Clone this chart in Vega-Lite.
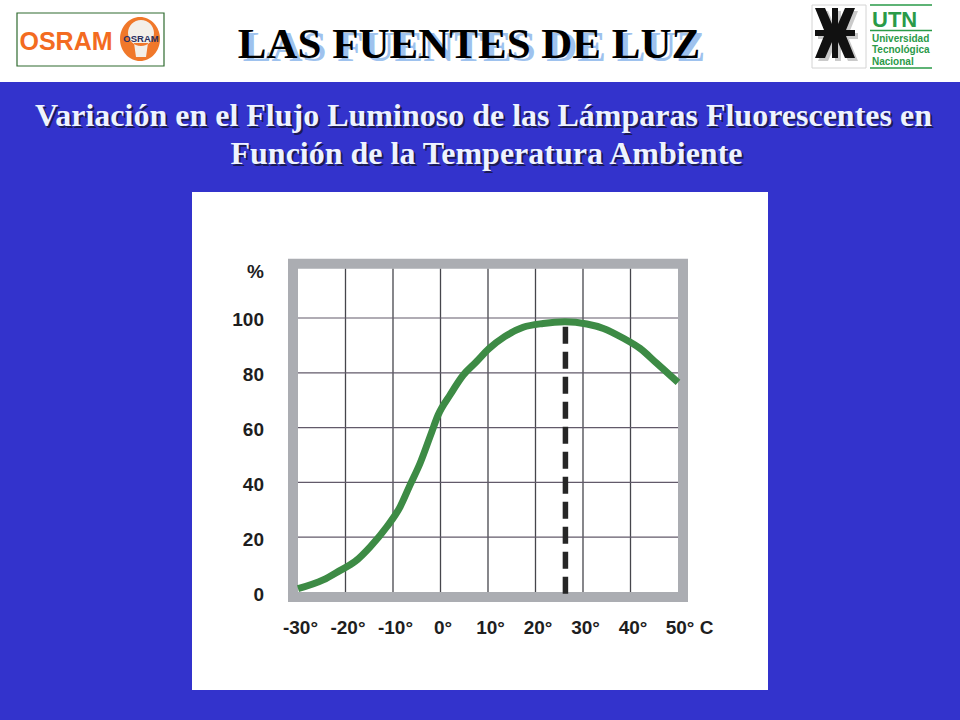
{
  "$schema": "https://vega.github.io/schema/vega-lite/v6.json",
  "background": "#3333cc",
  "padding": {"left": 0, "top": 0, "right": 0, "bottom": 30},
  "bounds": "flush",
  "center": true,
  "spacing": 110,
  "config": {"view": {"stroke": null}},
  "datasets": {
    "h_title": [{"label": "LAS FUENTES DE LUZ"}],
    "h_sub1": [{"label": "Variación en el Flujo Luminoso de las Lámparas Fluorescentes en"}],
    "h_sub2": [{"label": "Función de la Temperatura Ambiente"}],
    "h_osram": [{"label": "OSRAM"}],
    "h_utn": [{"label": "UTN"}],
    "h_u1": [{"label": "Universidad"}],
    "h_u2": [{"label": "Tecnológica"}],
    "h_u3": [{"label": "Nacional"}],
    "frame": [{"part": "frame"}],
    "xgrid": [{"t": -20}, {"t": -10}, {"t": 0}, {"t": 10}, {"t": 20}, {"t": 30}, {"t": 40}],
    "ygrid": [{"v": 20}, {"v": 40}, {"v": 60}, {"v": 80}, {"v": 100}],
    "xlab": [
      {"t": -30, "lab": "-30°"}, {"t": -20, "lab": "-20°"}, {"t": -10, "lab": "-10°"},
      {"t": 0, "lab": "0°"}, {"t": 10, "lab": "10°"}, {"t": 20, "lab": "20°"},
      {"t": 30, "lab": "30°"}, {"t": 40, "lab": "40°"}
    ],
    "xlab50": [{"t": 50, "lab": "50° C"}],
    "ylab": [
      {"v": 0, "lab": "0"}, {"v": 20, "lab": "20"}, {"v": 40, "lab": "40"},
      {"v": 60, "lab": "60"}, {"v": 80, "lab": "80"}, {"v": 100, "lab": "100"},
      {"v": 117.6, "lab": "%"}
    ],
    "peak": [{"temp": 26.3, "flux": 96.8}],
    "curve": [
      {"T": -30, "V": 1.2},
      {"T": -24.7, "V": 4.4},
      {"T": -21.2, "V": 7.8},
      {"T": -18, "V": 11.1},
      {"T": -14.8, "V": 16.5},
      {"T": -11.3, "V": 23.8},
      {"T": -8.5, "V": 31.1},
      {"T": -6.4, "V": 39.1},
      {"T": -4.3, "V": 47},
      {"T": -2.2, "V": 56.7},
      {"T": -0.5, "V": 64.6},
      {"T": 2, "V": 71.9},
      {"T": 4.8, "V": 79.2},
      {"T": 7.6, "V": 84.1},
      {"T": 10.2, "V": 88.8},
      {"T": 13.5, "V": 93.2},
      {"T": 17.4, "V": 96.6},
      {"T": 21.6, "V": 98.0},
      {"T": 26.2, "V": 98.6},
      {"T": 30.8, "V": 97.8},
      {"T": 34.3, "V": 96.2},
      {"T": 38.5, "V": 92.6},
      {"T": 42, "V": 88.9},
      {"T": 45.5, "V": 83.5},
      {"T": 50, "V": 76.5}
    ]
  },
  "vconcat": [
    {
      "width": 960,
      "height": 82,
      "view": {"fill": "white", "stroke": null},
      "layer": [
        {
          "data": {"name": "h_osram"},
          "mark": {"type": "point", "shape": "M-463,-28H-316V25H-463Z", "size": 4, "filled": true, "fill": "white", "stroke": "#2f6b2f", "strokeWidth": 1.2, "opacity": 1},
          "encoding": {}
        },
        {
          "data": {"name": "h_osram"},
          "mark": {"type": "text", "dx": -414, "dy": 9, "align": "center", "baseline": "alphabetic", "font": "Liberation Sans", "fontSize": 25, "fontWeight": "bold", "fill": "#f36b21"},
          "encoding": {"text": {"field": "label"}}
        },
        {
          "data": {"name": "h_osram"},
          "mark": {"type": "point", "shape": "M-360,-2A20,22 0 1,0 -320,-2A20,22 0 1,0 -360,-2Z", "size": 4, "filled": true, "fill": "#f0782a", "strokeWidth": 0, "opacity": 1},
          "encoding": {}
        },
        {
          "data": {"name": "h_osram"},
          "mark": {"type": "point", "shape": "M-352,-8A13,13 0 1,0 -326,-8A13,13 0 1,0 -352,-8Z M-346,2L-332,2L-334,16L-344,16Z", "size": 4, "filled": true, "fill": "#f3efe8", "strokeWidth": 0, "opacity": 1},
          "encoding": {}
        },
        {
          "data": {"name": "h_osram"},
          "mark": {"type": "text", "dx": -339, "dy": 0.5, "align": "center", "baseline": "alphabetic", "font": "Liberation Sans", "fontSize": 9.5, "fontWeight": "bold", "fill": "#2b3060"},
          "encoding": {"text": {"field": "label"}}
        },
        {
          "data": {"name": "h_utn"},
          "mark": {"type": "point", "shape": "M332,-36H386V27H332Z", "size": 4, "filled": true, "fill": "white", "fillOpacity": 0, "stroke": "#d4d4d4", "strokeWidth": 1, "opacity": 1},
          "encoding": {}
        },
        {
          "data": {"name": "h_utn"},
          "mark": {"type": "point", "shape": "M390,-36H452M390,-10.5H452M390,27H452", "size": 4, "filled": false, "fill": null, "stroke": "#2a9a48", "strokeWidth": 1.5, "opacity": 1},
          "encoding": {}
        },
        {
          "data": {"name": "h_utn"},
          "mark": {"type": "point", "shape": "M355,-30H361V20H355Z M338,-8H378V-2H338Z M338,-30L348,-30L355,-14L355,-8L347,-8Z M378,-30L368,-30L361,-14L361,-8L369,-8Z M338,20L348,20L355,4L355,-2L347,-2Z M378,20L368,20L361,4L361,-2L369,-2Z", "size": 4, "filled": true, "fill": "#8a8a8a", "strokeWidth": 0, "opacity": 0.45},
          "encoding": {}
        },
        {
          "data": {"name": "h_utn"},
          "mark": {"type": "point", "shape": "M352,-33H358V17H352Z M335,-11H375V-5H335Z M335,-33L345,-33L352,-17L352,-11L344,-11Z M375,-33L365,-33L358,-17L358,-11L366,-11Z M335,17L345,17L352,1L352,-5L344,-5Z M375,17L365,17L358,1L358,-5L366,-5Z", "size": 4, "filled": true, "fill": "#111111", "strokeWidth": 0, "opacity": 1},
          "encoding": {}
        },
        {
          "data": {"name": "h_utn"},
          "mark": {"type": "text", "dx": 392, "dy": -14.3, "align": "left", "baseline": "alphabetic", "font": "Liberation Sans Narrow, Liberation Sans", "fontSize": 22, "fontWeight": "bold", "fill": "#2a9a48"},
          "encoding": {"text": {"field": "label"}}
        },
        {
          "data": {"name": "h_u1"},
          "mark": {"type": "text", "dx": 392, "dy": 0.5, "align": "left", "baseline": "alphabetic", "font": "Liberation Sans Narrow, Liberation Sans", "fontSize": 10, "fontWeight": "bold", "fill": "#2a9a48"},
          "encoding": {"text": {"field": "label"}}
        },
        {
          "data": {"name": "h_u2"},
          "mark": {"type": "text", "dx": 392, "dy": 12, "align": "left", "baseline": "alphabetic", "font": "Liberation Sans Narrow, Liberation Sans", "fontSize": 10, "fontWeight": "bold", "fill": "#2a9a48"},
          "encoding": {"text": {"field": "label"}}
        },
        {
          "data": {"name": "h_u3"},
          "mark": {"type": "text", "dx": 392, "dy": 23.5, "align": "left", "baseline": "alphabetic", "font": "Liberation Sans Narrow, Liberation Sans", "fontSize": 10, "fontWeight": "bold", "fill": "#2a9a48"},
          "encoding": {"text": {"field": "label"}}
        },
        {
          "data": {"name": "h_title"},
          "mark": {"type": "text", "dx": -6, "dy": 20, "align": "center", "baseline": "alphabetic", "font": "Liberation Serif", "fontSize": 43, "fontWeight": "bold", "fill": "#9ec2ee"},
          "encoding": {"text": {"field": "label"}}
        },
        {
          "data": {"name": "h_title"},
          "mark": {"type": "text", "dx": -11, "dy": 17, "align": "center", "baseline": "alphabetic", "font": "Liberation Serif", "fontSize": 43, "fontWeight": "bold", "fill": "#000000"},
          "encoding": {"text": {"field": "label"}}
        },
        {
          "data": {"name": "h_sub1"},
          "mark": {"type": "text", "dx": 5.5, "dy": 86.5, "align": "center", "baseline": "alphabetic", "font": "Liberation Serif", "fontSize": 32, "fontWeight": "bold", "fill": "#1b1b55"},
          "encoding": {"text": {"field": "label"}}
        },
        {
          "data": {"name": "h_sub1"},
          "mark": {"type": "text", "dx": 3.5, "dy": 84.5, "align": "center", "baseline": "alphabetic", "font": "Liberation Serif", "fontSize": 32, "fontWeight": "bold", "fill": "#eef3ff"},
          "encoding": {"text": {"field": "label"}}
        },
        {
          "data": {"name": "h_sub2"},
          "mark": {"type": "text", "dx": 8.5, "dy": 124.5, "align": "center", "baseline": "alphabetic", "font": "Liberation Serif", "fontSize": 32, "fontWeight": "bold", "fill": "#1b1b55"},
          "encoding": {"text": {"field": "label"}}
        },
        {
          "data": {"name": "h_sub2"},
          "mark": {"type": "text", "dx": 6.5, "dy": 122.5, "align": "center", "baseline": "alphabetic", "font": "Liberation Serif", "fontSize": 32, "fontWeight": "bold", "fill": "#eef3ff"},
          "encoding": {"text": {"field": "label"}}
        }
      ]
    },
    {
      "width": 576,
      "height": 498,
      "view": {"fill": "white", "stroke": null},
      "layer": [
        {
          "data": {"name": "frame"},
          "mark": {"type": "rect", "fill": "white", "stroke": "#abadb2", "strokeWidth": 10},
          "encoding": {
            "x": {"datum": -31.053, "type": "quantitative", "axis": null, "scale": {"domain": [-52.316, 68.947], "nice": false, "zero": false}},
            "x2": {"datum": 51.053},
            "y": {"datum": -1.825, "type": "quantitative", "axis": null, "scale": {"domain": [-35.766, 145.985], "nice": false, "zero": false}},
            "y2": {"datum": 119.825}
          }
        },
        {
          "data": {"name": "xgrid"},
          "mark": {"type": "rule", "stroke": "#46464c", "strokeWidth": 1.3},
          "encoding": {
            "x": {"field": "t", "type": "quantitative", "axis": null, "scale": {"domain": [-52.316, 68.947], "nice": false, "zero": false}},
            "y": {"datum": 0, "type": "quantitative", "axis": null, "scale": {"domain": [-35.766, 145.985], "nice": false, "zero": false}},
            "y2": {"datum": 118}
          }
        },
        {
          "data": {"name": "ygrid"},
          "mark": {"type": "rule", "stroke": "#625a6a", "strokeWidth": 1.2},
          "encoding": {
            "y": {"field": "v", "type": "quantitative", "axis": null, "scale": {"domain": [-35.766, 145.985], "nice": false, "zero": false}},
            "x": {"datum": -30, "type": "quantitative", "axis": null, "scale": {"domain": [-52.316, 68.947], "nice": false, "zero": false}},
            "x2": {"datum": 50}
          }
        },
        {
          "data": {"name": "curve"},
          "mark": {"type": "line", "stroke": "#3d8b45", "strokeWidth": 7, "interpolate": "monotone", "strokeCap": "butt", "strokeJoin": "round"},
          "encoding": {
            "x": {"field": "T", "type": "quantitative", "axis": null, "scale": {"domain": [-52.316, 68.947], "nice": false, "zero": false}},
            "y": {"field": "V", "type": "quantitative", "axis": null, "scale": {"domain": [-35.766, 145.985], "nice": false, "zero": false}}
          }
        },
        {
          "data": {"name": "peak"},
          "mark": {"type": "rule", "stroke": "#262626", "strokeWidth": 5.5, "strokeDash": [17, 8], "strokeCap": "butt"},
          "encoding": {
            "x": {"field": "temp", "type": "quantitative", "axis": null, "scale": {"domain": [-52.316, 68.947], "nice": false, "zero": false}},
            "y": {"field": "flux", "type": "quantitative", "axis": null, "scale": {"domain": [-35.766, 145.985], "nice": false, "zero": false}},
            "y2": {"datum": -1.2}
          }
        },
        {
          "data": {"name": "xlab"},
          "mark": {"type": "text", "dx": 2.5, "dy": 26.6, "align": "center", "baseline": "top", "font": "Liberation Sans", "fontSize": 19, "fontWeight": "bold", "fill": "#1e1e1e"},
          "encoding": {
            "x": {"field": "t", "type": "quantitative", "axis": null, "scale": {"domain": [-52.316, 68.947], "nice": false, "zero": false}},
            "y": {"datum": 0, "type": "quantitative", "axis": null, "scale": {"domain": [-35.766, 145.985], "nice": false, "zero": false}},
            "text": {"field": "lab"}
          }
        },
        {
          "data": {"name": "xlab50"},
          "mark": {"type": "text", "dx": 11.5, "dy": 26.6, "align": "center", "baseline": "top", "font": "Liberation Sans", "fontSize": 19, "fontWeight": "bold", "fill": "#1e1e1e"},
          "encoding": {
            "x": {"field": "t", "type": "quantitative", "axis": null, "scale": {"domain": [-52.316, 68.947], "nice": false, "zero": false}},
            "y": {"datum": 0, "type": "quantitative", "axis": null, "scale": {"domain": [-35.766, 145.985], "nice": false, "zero": false}},
            "text": {"field": "lab"}
          }
        },
        {
          "data": {"name": "ylab"},
          "mark": {"type": "text", "dx": -34, "dy": 2.5, "align": "right", "baseline": "middle", "font": "Liberation Sans", "fontSize": 19, "fontWeight": "bold", "fill": "#1e1e1e"},
          "encoding": {
            "y": {"field": "v", "type": "quantitative", "axis": null, "scale": {"domain": [-35.766, 145.985], "nice": false, "zero": false}},
            "x": {"datum": -30, "type": "quantitative", "axis": null, "scale": {"domain": [-52.316, 68.947], "nice": false, "zero": false}},
            "text": {"field": "lab"}
          }
        }
      ]
    }
  ]
}
